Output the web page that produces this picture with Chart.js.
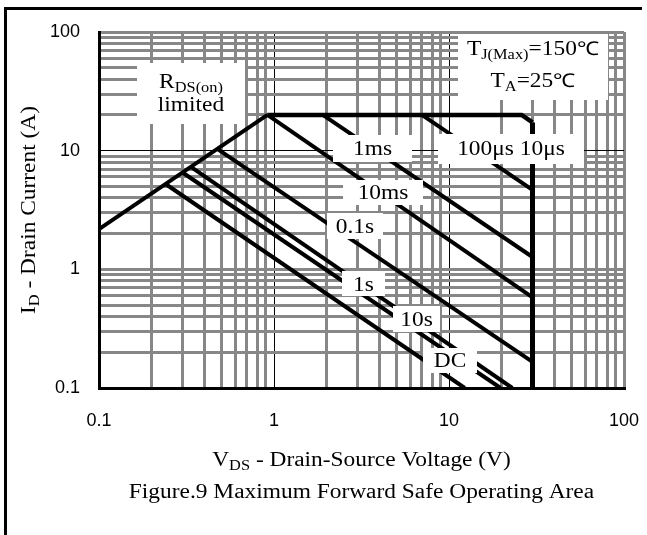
<!DOCTYPE html>
<html>
<head>
<meta charset="utf-8">
<script src="https://cdn.jsdelivr.net/npm/chart.js@4/dist/chart.umd.min.js"></script>
<style>
  html, body { margin: 0; padding: 0; background: #fff; }
  #wrap { position: relative; width: 647px; height: 535px; }
</style>
</head>
<body>
<div id="wrap"><canvas id="soa" width="647" height="535"></canvas></div>
<script>
// Axis tick labels (decades)
const xTickLabels = [0.1, 1, 10, 100];
const yTickLabels = [0.1, 1, 10, 100];

// Boundaries of the safe operating area: V_DS (V) and I_D (A)
const rdsOnV = [0.1, 0.917];
const rdsOnI = [2.18, 20];
const limit10usV = [0.917, 26, 30];
const limit10usI = [20, 20, 17.3];
const vdsMaxV = [30, 30];
const vdsMaxI = [17.3, 0.1];
const pulse100usV = [7.0, 30];
const pulse100usI = [20, 4.67];
const pulse1msV = [1.9, 30];
const pulse1msI = [20, 1.27];
const pulse10msV = [0.917, 30];
const pulse10msI = [20, 0.58];
const pulse100msV = [0.474, 30];
const pulse100msI = [10.35, 0.166];
const pulse1sV = [0.335, 23];
const pulse1sI = [7.3, 0.1];
const pulse10sV = [0.30, 19.7];
const pulse10sI = [6.55, 0.1];
const dcV = [0.24, 12.3];
const dcI = [5.24, 0.1];

const pts = (vs, is) => vs.map((v, k) => ({ x: v, y: is[k] }));

function line(vs, is, width) {
  return {
    data: pts(vs, is),
    showLine: true,
    borderColor: '#000',
    borderWidth: width,
    pointRadius: 0,
    borderCapStyle: 'butt',
    borderJoinStyle: 'miter',
    fill: false
  };
}

// grid values 1..9 per decade between 0.1 and 100
function logGrid() {
  const out = [];
  for (let e = -1; e <= 1; e++) {
    for (let m = 1; m <= 9; m++) out.push(Number((m * Math.pow(10, e)).toPrecision(3)));
  }
  out.push(100);
  return out;
}
const gridValues = logGrid();

const GRAY = '#878787';
const SERIF = '"Liberation Serif", "Times New Roman", serif';
const SANS = '"Liberation Sans", Arial, sans-serif';
const TEXT_STRETCH = 1.17;

function axis(blackLines, labels, pad) {
  return {
    type: 'logarithmic',
    min: 0.1,
    max: 100,
    afterBuildTicks: s => { s.ticks = gridValues.map(v => ({ value: v })); },
    ticks: {
      autoSkip: false,
      maxRotation: 0,
      padding: pad,
      color: '#000',
      font: { family: SANS, size: 18 },
      callback: v => labels.includes(v) ? String(v) : ''
    },
    grid: {
      drawTicks: false,
      color: c => blackLines.includes(c.tick && c.tick.value) ? '#000' : GRAY,
      lineWidth: c => blackLines.includes(c.tick && c.tick.value) ? 1 : 3
    },
    border: { display: true, color: '#000', width: 3 }
  };
}

// rich text: parts = [text, kind]; kind n = serif, s = serif subscript, c = sans
function richText(ctx, parts, cx, cy) {
  const fontOf = k => k === 's' ? '14px ' + SERIF : (k === 'c' ? '19px ' + SANS : '20px ' + SERIF);
  let total = 0;
  parts.forEach(p => { ctx.font = fontOf(p[1]); total += ctx.measureText(p[0]).width; });
  ctx.save();
  ctx.translate(cx, cy);
  ctx.scale(TEXT_STRETCH, 1);
  let x = -total / 2;
  ctx.textBaseline = 'middle';
  ctx.textAlign = 'left';
  ctx.fillStyle = '#000';
  parts.forEach(p => {
    ctx.font = fontOf(p[1]);
    ctx.fillText(p[0], x, p[1] === 's' ? 5 : 0);
    x += ctx.measureText(p[0]).width;
  });
  ctx.restore();
}

const labelBoxes = [
  { rect: [137, 63, 108, 61], lines: [[[['R', 'n'], ['DS(on)', 's']], 83], [[['limited', 'n']], 106]] },
  { rect: [458, 34, 150, 66], lines: [[[['T', 'n'], ['J(Max)', 's'], ['=150', 'n'], ['℃', 'c']], 50], [[['T', 'n'], ['A', 's'], ['=25', 'n'], ['℃', 'c']], 82]] },
  { rect: [333, 135, 79, 27], lines: [[[['1ms', 'n']], 150]] },
  { rect: [438, 134, 146, 30], lines: [[[['100μs 10μs', 'n']], 150]] },
  { rect: [343, 180, 80, 25], lines: [[[['10ms', 'n']], 194]] },
  { rect: [327, 213, 56, 26], lines: [[[['0.1s', 'n']], 228]] },
  { rect: [342, 271, 43, 25], lines: [[[['1s', 'n']], 286]] },
  { rect: [393, 306, 47, 26], lines: [[[['10s', 'n']], 321]] },
  { rect: [423, 348, 54, 25], lines: [[[['DC', 'n']], 362]] }
];

const decorations = {
  id: 'decorations',
  beforeDraw(chart) {
    const ctx = chart.ctx;
    ctx.save();
    ctx.fillStyle = '#fff';
    ctx.fillRect(0, 0, chart.width, chart.height);
    // outer frame (top and left)
    ctx.fillStyle = '#000';
    ctx.fillRect(4, 7, 638, 3);
    ctx.fillRect(4, 7, 3, chart.height - 7);
    ctx.restore();
  },
  afterDatasetsDraw(chart) {
    const ctx = chart.ctx;
    ctx.save();
    labelBoxes.forEach(b => {
      ctx.fillStyle = '#fff';
      ctx.fillRect(b.rect[0], b.rect[1], b.rect[2], b.rect[3]);
      const cx = b.rect[0] + b.rect[2] / 2;
      b.lines.forEach(l => richText(ctx, l[0], cx, l[1]));
    });
    const a = chart.chartArea;
    const mid = (a.left + a.right) / 2;
    richText(ctx, [['V', 'n'], ['DS', 's'], [' - Drain-Source Voltage (V)', 'n']], mid, 461);
    richText(ctx, [['Figure.9 Maximum Forward Safe Operating Area', 'n']], mid, 493);
    ctx.save();
    ctx.translate(30, (a.top + a.bottom) / 2);
    ctx.rotate(-Math.PI / 2);
    richText(ctx, [['I', 'n'], ['D', 's'], [' - Drain Current (A)', 'n']], 0, 0);
    ctx.restore();
    ctx.restore();
  }
};

new Chart(document.getElementById('soa'), {
  type: 'scatter',
  data: {
    datasets: [
      line(rdsOnV, rdsOnI, 4),
      line(limit10usV, limit10usI, 4.5),
      line(vdsMaxV, vdsMaxI, 5),
      line(pulse100usV, pulse100usI, 4),
      line(pulse1msV, pulse1msI, 4),
      line(pulse10msV, pulse10msI, 4),
      line(pulse100msV, pulse100msI, 4),
      line(pulse1sV, pulse1sI, 4),
      line(pulse10sV, pulse10sI, 4),
      line(dcV, dcI, 4)
    ]
  },
  options: {
    responsive: false,
    animation: false,
    devicePixelRatio: 1,
    layout: { padding: { top: 32, right: 23, left: 0, bottom: 0 } },
    plugins: { legend: { display: false }, tooltip: { enabled: false } },
    scales: {
      x: Object.assign(axis([1, 10], xTickLabels, 22), {
        position: 'bottom',
        afterFit: s => { s.height = 147; s.paddingLeft = 0; s.paddingRight = 0; }
      }),
      y: Object.assign(axis([10], yTickLabels, 19), {
        position: 'left',
        afterFit: s => { s.width = 99; s.paddingTop = 0; s.paddingBottom = 0; }
      })
    }
  },
  plugins: [decorations]
});
</script>
</body>
</html>
